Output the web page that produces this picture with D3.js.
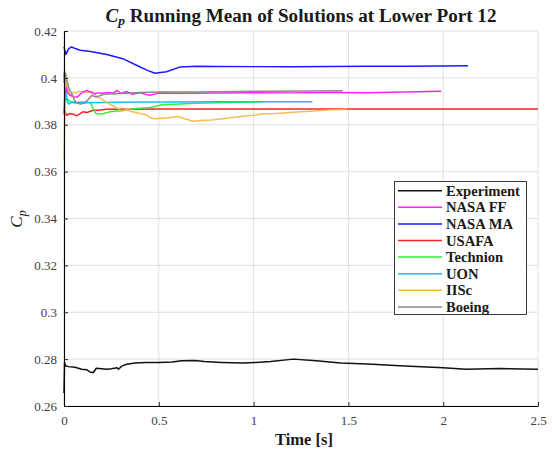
<!DOCTYPE html>
<html>
<head>
<meta charset="utf-8">
<script src="https://cdn.jsdelivr.net/npm/d3@7/dist/d3.min.js"></script>
<style>
  body { margin: 0; background: #fff; }
  svg { display: block; }
</style>
</head>
<body>
<svg id="chart" width="552" height="450"></svg>
<script>
// ---------- data ----------
const seriesNames = ["Experiment", "NASA FF", "NASA MA", "USAFA", "Technion", "UON", "IISc", "Boeing"];
const seriesColors = ["#111111", "#ff22ff", "#1a1aff", "#ff2020", "#33ee33", "#10c4ee", "#f5b540", "#8a8a8a"];

const tExp = [0, 0.003, 0.008, 0.023, 0.058, 0.093, 0.12, 0.137, 0.155, 0.17, 0.2, 0.225, 0.25, 0.28, 0.287, 0.305, 0.33, 0.375, 0.43, 0.5, 0.57, 0.62, 0.69, 0.74, 0.83, 0.94, 1.01, 1.09, 1.21, 1.33, 1.46, 1.6, 1.77, 2.0, 2.12, 2.3, 2.5];
const vExp = [0.2655, 0.2786, 0.2772, 0.2768, 0.2765, 0.2757, 0.2755, 0.2745, 0.2743, 0.2761, 0.2759, 0.2757, 0.2759, 0.2763, 0.2757, 0.277, 0.2778, 0.2783, 0.2786, 0.2786, 0.2788, 0.2793, 0.2794, 0.279, 0.2786, 0.2783, 0.2786, 0.279, 0.28, 0.2793, 0.2783, 0.2779, 0.2772, 0.2763, 0.2757, 0.276, 0.2757];

const tFF = [0, 0.005, 0.012, 0.02, 0.035, 0.05, 0.07, 0.085, 0.1, 0.12, 0.14, 0.16, 0.18, 0.2, 0.23, 0.26, 0.28, 0.3, 0.33, 0.36, 0.4, 0.45, 0.5, 0.6, 0.8, 1.0, 1.2, 1.4, 1.6, 1.8, 1.99];
const vFF = [0.3845, 0.3925, 0.396, 0.3935, 0.3925, 0.392, 0.3918, 0.393, 0.394, 0.3946, 0.394, 0.3932, 0.3936, 0.3934, 0.3938, 0.3935, 0.3947, 0.3933, 0.3942, 0.393, 0.3936, 0.3926, 0.3935, 0.3934, 0.3935, 0.3937, 0.3936, 0.3938, 0.3937, 0.394, 0.3943];

const tMA = [0, 0.01, 0.025, 0.04, 0.06, 0.085, 0.14, 0.226, 0.31, 0.385, 0.44, 0.48, 0.54, 0.61, 0.7, 0.8, 1.0, 1.2, 1.4, 1.6, 1.8, 2.0, 2.13];
const vMA = [0.4132, 0.41, 0.4125, 0.4132, 0.4125, 0.4118, 0.4113, 0.41, 0.4082, 0.4053, 0.4032, 0.402, 0.4026, 0.4046, 0.405, 0.4049, 0.4048, 0.4048, 0.4049, 0.405, 0.405, 0.4051, 0.4052];

const tUSAFA = [0, 0.014, 0.03, 0.05, 0.067, 0.1, 0.12, 0.155, 0.18, 0.226, 0.35, 0.5, 0.8, 1.2, 1.6, 2.0, 2.5];
const vUSAFA = [0.3866, 0.384, 0.3848, 0.3845, 0.3838, 0.3855, 0.3852, 0.3862, 0.3862, 0.3866, 0.3866, 0.3867, 0.3867, 0.3867, 0.3867, 0.3867, 0.3867];

const tTech = [0, 0.01, 0.03, 0.06, 0.1, 0.14, 0.155, 0.17, 0.2, 0.24, 0.3, 0.37, 0.455, 0.52, 0.7, 0.85, 1.05];
const vTech = [0.3895, 0.3915, 0.39, 0.3895, 0.3897, 0.3895, 0.3865, 0.3847, 0.3846, 0.3855, 0.386, 0.3868, 0.3874, 0.3885, 0.3892, 0.3895, 0.3898];

const tUON = [0, 0.008, 0.015, 0.025, 0.04, 0.06, 0.1, 0.2, 0.4, 0.6, 0.8, 1.0, 1.2, 1.31];
const vUON = [0.4018, 0.396, 0.3905, 0.3888, 0.3896, 0.3893, 0.3894, 0.3895, 0.3897, 0.3897, 0.3898, 0.3898, 0.3898, 0.3898];

const tIISc = [0, 0.006, 0.012, 0.02, 0.03, 0.05, 0.065, 0.08, 0.1, 0.12, 0.155, 0.17, 0.2, 0.22, 0.26, 0.305, 0.33, 0.36, 0.39, 0.43, 0.455, 0.48, 0.52, 0.55, 0.6, 0.65, 0.68, 0.72, 0.78, 0.86, 0.93, 1.0, 1.05, 1.12, 1.23, 1.3, 1.41, 1.49];
const vIISc = [0.3647, 0.39, 0.4018, 0.395, 0.3925, 0.394, 0.3935, 0.3942, 0.394, 0.3938, 0.394, 0.3923, 0.3909, 0.3898, 0.388, 0.3859, 0.3865, 0.3855, 0.385, 0.3843, 0.383, 0.3826, 0.3828, 0.383, 0.3835, 0.3822, 0.3815, 0.3818, 0.382, 0.3828, 0.3835, 0.384, 0.3847, 0.3848, 0.3854, 0.3858, 0.3864, 0.3866];

const tBoeing = [0, 0.003, 0.015, 0.028, 0.04, 0.058, 0.085, 0.11, 0.13, 0.146, 0.17, 0.21, 0.3, 0.4, 0.5, 0.7, 0.9, 1.1, 1.3, 1.47];
const vBoeing = [0.398, 0.403, 0.399, 0.395, 0.3935, 0.39, 0.3888, 0.3893, 0.391, 0.3926, 0.3918, 0.393, 0.3933, 0.3938, 0.394, 0.394, 0.3942, 0.3943, 0.3944, 0.3945];

const xTicks = [0, 0.5, 1, 1.5, 2, 2.5];
const xTickLabels = ["0", "0.5", "1", "1.5", "2", "2.5"];
const yTicks = [0.26, 0.28, 0.3, 0.32, 0.34, 0.36, 0.38, 0.4, 0.42];
const yTickLabels = ["0.26", "0.28", "0.3", "0.32", "0.34", "0.36", "0.38", "0.4", "0.42"];

const seriesT = [tExp, tFF, tMA, tUSAFA, tTech, tUON, tIISc, tBoeing];
const seriesV = [vExp, vFF, vMA, vUSAFA, vTech, vUON, vIISc, vBoeing];

// ---------- layout ----------
const L = 64, R = 538, T = 31, B = 406;
const serif = "'Liberation Serif', 'DejaVu Serif', serif";
const svg = d3.select("#chart");

const x = d3.scaleLinear().domain([0, 2.5]).range([L, R]);
const y = d3.scaleLinear().domain([0.26, 0.42]).range([B, T]);

// grid
const grid = svg.append("g");
grid.selectAll("line.gx").data(xTicks).join("line")
  .attr("x1", d => x(d)).attr("x2", d => x(d)).attr("y1", T).attr("y2", B)
  .attr("stroke", "#e0e0e0").attr("stroke-width", 1);
grid.selectAll("line.gy").data(yTicks).join("line")
  .attr("x1", L).attr("x2", R).attr("y1", d => y(d)).attr("y2", d => y(d))
  .attr("stroke", "#e0e0e0").attr("stroke-width", 1);

// lines
const line = d3.line().x(d => x(d[0])).y(d => y(d[1]));
const drawOrder = [0, 3, 4, 5, 6, 1, 7, 2];
const lines = svg.append("g").attr("fill", "none");
drawOrder.forEach(i => {
  const pts = seriesT[i].map((t, k) => [t, seriesV[i][k]]);
  lines.append("path").datum(pts)
    .attr("d", line)
    .attr("stroke", seriesColors[i])
    .attr("stroke-width", 1.5)
    .attr("stroke-opacity", i === 6 ? 0.9 : 1)
    .attr("stroke-linejoin", "round");
});

// axes
const xAxis = d3.axisBottom(x).tickValues(xTicks).tickFormat((d, i) => xTickLabels[i]).tickSizeInner(-4).tickSizeOuter(0).tickPadding(10);
const yAxis = d3.axisLeft(y).tickValues(yTicks).tickFormat((d, i) => yTickLabels[i]).tickSizeInner(-4).tickSizeOuter(0).tickPadding(7);

const gx = svg.append("g").attr("transform", `translate(0,${B})`).call(xAxis);
const gy = svg.append("g").attr("transform", `translate(${L},0)`).call(yAxis);
[gx, gy].forEach(g => {
  g.select(".domain").attr("stroke", "#000").attr("stroke-width", 1.1);
  g.selectAll(".tick line").attr("stroke", "#262626");
  g.selectAll(".tick text").attr("font-family", serif).attr("font-size", 13).attr("fill", "#404040");
});
gx.selectAll(".tick text").attr("dy", "0.71em");

// title
const title = svg.append("text")
  .attr("x", 301).attr("y", 22)
  .attr("text-anchor", "middle")
  .attr("font-family", serif).attr("font-weight", "bold").attr("font-size", 16).attr("fill", "#1a1a1a");
title.append("tspan").attr("font-style", "italic").text("C");
title.append("tspan").attr("font-style", "italic").attr("font-size", 11).attr("dy", 3).text("p");
title.append("tspan").attr("dy", -3).text(" Running Mean of Solutions at Lower Port 12");
{
  const w = title.node().getComputedTextLength();
  const s = 16 * 391 / w;
  title.attr("font-size", s);
  title.select("tspan:nth-child(2)").attr("font-size", s * 0.7);
}

// x label
svg.append("text")
  .attr("x", 304).attr("y", 445)
  .attr("text-anchor", "middle")
  .attr("font-family", serif).attr("font-weight", "bold").attr("font-size", 16.5).attr("fill", "#1a1a1a")
  .text("Time [s]");

// y label
const yl = svg.append("text")
  .attr("transform", "translate(22,219) rotate(-90)")
  .attr("text-anchor", "middle")
  .attr("font-family", serif).attr("font-size", 17).attr("fill", "#1a1a1a");
yl.append("tspan").attr("font-style", "italic").text("C");
yl.append("tspan").attr("font-style", "italic").attr("font-size", 12).attr("dy", 4).text("p");

// legend
const lg = svg.append("g");
lg.append("rect").attr("x", 394.5).attr("y", 181.5).attr("width", 132).attr("height", 133)
  .attr("fill", "#fff").attr("stroke", "#262626").attr("stroke-width", 0.9);
const rowY = i => 190.7 + i * 16.6;
const items = lg.selectAll("g.it").data(seriesNames).join("g");
items.append("line")
  .attr("x1", 398).attr("x2", 442)
  .attr("y1", (d, i) => rowY(i)).attr("y2", (d, i) => rowY(i))
  .attr("stroke", (d, i) => seriesColors[i]).attr("stroke-width", 1.5);
const lt = items.append("text")
  .attr("x", 446).attr("y", (d, i) => rowY(i))
  .attr("dy", "0.35em")
  .attr("font-family", serif).attr("font-weight", "bold").attr("font-size", 13).attr("fill", "#1a1a1a")
  .text(d => d);
{
  const w = lt.nodes()[0].getComputedTextLength();
  lt.attr("font-size", 13 * 74 / w);
}
</script>
</body>
</html>
